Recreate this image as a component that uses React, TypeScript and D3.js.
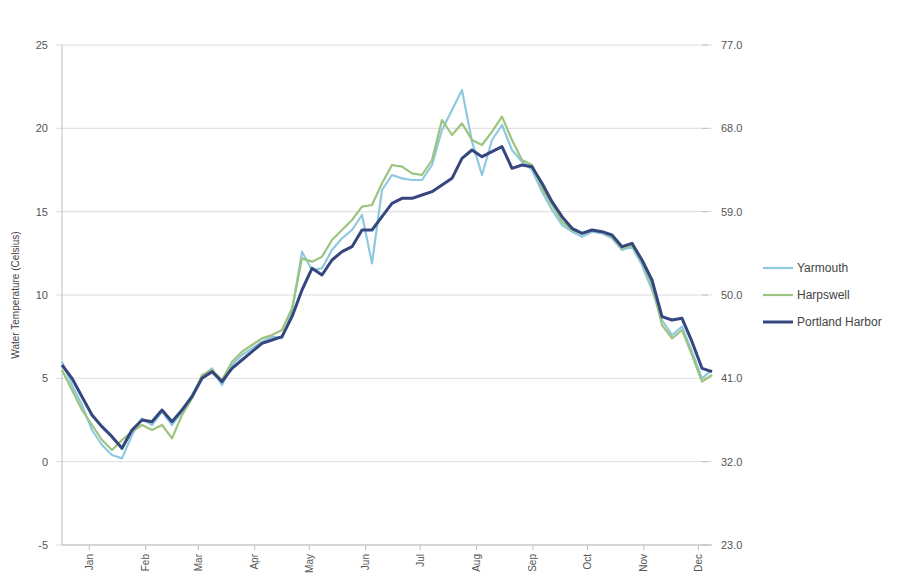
import * as d3 from "d3";

// sampling: one reading every 132 hours starting mid-December
const startDate = new Date(2011, 11, 17);
const stepHours = 132;

const seriesNames = ["Yarmouth", "Harpswell", "Portland Harbor"];
const seriesColors = ["#8fc9e0", "#9dc47e", "#35477e"];
const seriesWidths = [2.2, 2.2, 3];

// water temperature, degrees Celsius
const yarmouth = [
  6.0, 4.6, 3.4, 1.9, 1.0, 0.4, 0.2, 1.6, 2.6, 2.2, 3.0, 2.2, 3.0, 4.0, 5.1, 5.6, 4.6,
  5.8, 6.4, 6.8, 7.2, 7.5, 7.4, 9.0, 12.6, 11.5, 11.6, 12.7, 13.4, 13.9, 14.8, 11.9,
  16.3, 17.2, 17.0, 16.9, 16.9, 17.8, 19.9, 21.1, 22.3, 19.2, 17.2, 19.3, 20.2, 18.7,
  18.0, 17.5, 16.2, 15.1, 14.2, 13.8, 13.5, 13.8, 13.7, 13.4, 12.7, 12.9, 11.8, 10.3,
  8.5, 7.6, 8.1, 6.6, 5.0, 5.5,
];
const harpswell = [
  5.5, 4.3, 3.1, 2.2, 1.3, 0.7, 1.3, 1.8, 2.2, 1.9, 2.2, 1.4, 2.8, 3.8, 5.2, 5.5, 4.9,
  6.0, 6.6, 7.0, 7.4, 7.6, 7.9, 9.2, 12.2, 12.0, 12.3, 13.3, 13.9, 14.5, 15.3, 15.4,
  16.7, 17.8, 17.7, 17.3, 17.2, 18.1, 20.5, 19.6, 20.3, 19.3, 19.0, 19.8, 20.7, 19.3,
  18.1, 17.8, 16.4, 15.4, 14.4, 13.9, 13.7, 13.9, 13.8, 13.5, 12.8, 13.0, 12.0, 10.6,
  8.2, 7.4, 7.9, 6.4, 4.8, 5.2,
];
const portland = [
  5.8, 5.0, 3.9, 2.8, 2.1, 1.5, 0.8, 1.9, 2.5, 2.4, 3.1, 2.4, 3.1, 3.9, 5.0, 5.4, 4.8,
  5.6, 6.1, 6.6, 7.1, 7.3, 7.5, 8.7, 10.3, 11.6, 11.2, 12.1, 12.6, 12.9, 13.9, 13.9,
  14.7, 15.5, 15.8, 15.8, 16.0, 16.2, 16.6, 17.0, 18.2, 18.7, 18.3, 18.6, 18.9, 17.6,
  17.8, 17.7, 16.7, 15.6, 14.7, 14.0, 13.7, 13.9, 13.8, 13.6, 12.9, 13.1, 12.1, 10.9,
  8.7, 8.5, 8.6, 7.2, 5.6, 5.4,
];

const celsiusTicks = [-5, 0, 5, 10, 15, 20, 25];
const fahrenheitTicks = [23, 32, 41, 50, 59, 68, 77];

const allSeries = [yarmouth, harpswell, portland];

export default function App() {
  const width = 899;
  const height = 585;
  const margin = { top: 45, right: 187, bottom: 40, left: 62 };

  const dateAt = (i: number) => d3.timeHour.offset(startDate, i * stepHours);
  const n = portland.length;

  const x = d3
    .scaleTime()
    .domain([startDate, dateAt(n - 1)])
    .range([margin.left, width - margin.right]);

  const y = d3
    .scaleLinear()
    .domain([-5, 25])
    .range([height - margin.bottom, margin.top]);

  const yF = d3
    .scaleLinear()
    .domain([23, 77])
    .range([height - margin.bottom, margin.top]);

  const line = d3
    .line<number>()
    .x((_, i) => x(dateAt(i)))
    .y((d) => y(d));

  const monthTicks = d3.timeMonth.range(new Date(2012, 0, 1), new Date(2012, 11, 2));
  const fmt = d3.timeFormat("%b");

  const x0 = margin.left;
  const x1 = width - margin.right;
  const yBottom = height - margin.bottom;
  const textColor = "#555";

  return (
    <svg
      width={width}
      height={height}
      style={{ position: "absolute", left: 0, top: 0, background: "#fff" }}
      fontFamily="Liberation Sans, Arial, sans-serif"
    >
      {/* grid lines */}
      {celsiusTicks.map((t) => (
        <line key={"g" + t} x1={x0 - 6} x2={x1} y1={y(t)} y2={y(t)} stroke="#dcdcdc" strokeWidth={1} />
      ))}

      {/* left axis */}
      <line x1={x0} x2={x0} y1={margin.top} y2={yBottom} stroke="#bfbfbf" />
      {celsiusTicks.map((t) => (
        <text key={"l" + t} x={x0 - 14} y={y(t)} dy="0.35em" textAnchor="end" fontSize={11} fill={textColor}>
          {t}
        </text>
      ))}
      <text
        transform={`translate(19,${(margin.top + yBottom) / 2}) rotate(-90)`}
        textAnchor="middle"
        fontSize={10}
        fill="#444"
      >
        Water Temperature (Celsius)
      </text>

      {/* right axis (Fahrenheit) */}
      {fahrenheitTicks.map((t) => (
        <g key={"r" + t}>
          <line x1={x1 - 10} x2={x1 - 4} y1={yF(t)} y2={yF(t)} stroke="#bfbfbf" />
          <text x={x1 + 9} y={yF(t)} dy="0.35em" fontSize={11} fill={textColor}>
            {t.toFixed(1)}
          </text>
        </g>
      ))}

      {/* bottom axis */}
      <line x1={x0} x2={x1} y1={yBottom} y2={yBottom} stroke="#bfbfbf" />
      {monthTicks.map((m) => (
        <g key={m.getTime()}>
          <line x1={x(m)} x2={x(m)} y1={yBottom} y2={yBottom + 5} stroke="#bfbfbf" />
          <text
            transform={`translate(${x(m)},${yBottom + 9}) rotate(-90)`}
            dy="0.35em"
            textAnchor="end"
            fontSize={10}
            fill={textColor}
          >
            {fmt(m)}
          </text>
        </g>
      ))}

      {/* series */}
      {allSeries.map((s, i) => (
        <path
          key={seriesNames[i]}
          d={line(s) ?? ""}
          fill="none"
          stroke={seriesColors[i]}
          strokeWidth={seriesWidths[i]}
          strokeLinejoin="round"
        />
      ))}

      {/* legend */}
      {seriesNames.map((name, i) => (
        <g key={"leg" + name} transform={`translate(763,${268 + i * 27})`}>
          <line x1={0} x2={30} y1={0} y2={0} stroke={seriesColors[i]} strokeWidth={seriesWidths[i]} />
          <text x={34} y={0} dy="0.35em" fontSize={12} fill="#444">
            {name}
          </text>
        </g>
      ))}
    </svg>
  );
}
